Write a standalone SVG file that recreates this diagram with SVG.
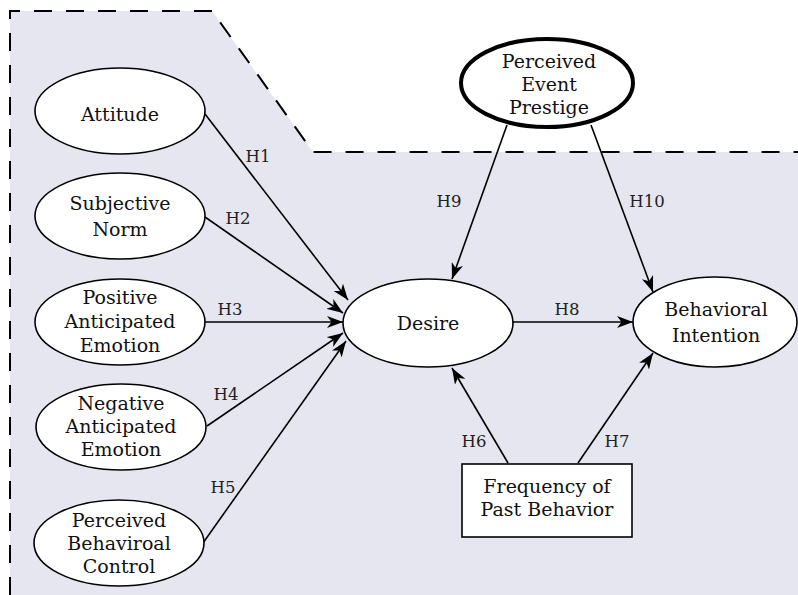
<svg xmlns="http://www.w3.org/2000/svg" width="798" height="595" viewBox="0 0 798 595">
<defs>
<marker id="ah" markerUnits="userSpaceOnUse" markerWidth="17" markerHeight="12" refX="16" refY="6" orient="auto">
<path d="M0,0 L16,6 L0,12 L4.5,6 z" fill="#000"/>
</marker>
<style>
text{font-family:'DejaVu Serif','Liberation Serif',serif}
.n{fill:#fff;stroke:#000;stroke-width:1.6}
.t{font-size:19px;fill:#111;text-anchor:middle}
.h{font-size:16.5px;fill:#222;text-anchor:middle}
.c{stroke:#000;stroke-width:1.6;fill:none;marker-end:url(#ah)}
</style>
</defs>
<rect width="798" height="595" fill="#fff"/>
<g id="boundary">
<polygon points="10,11 212,11 313,152 798,152 798,595 10,595" fill="#e6e6f0"/>
<polyline points="10,595 10,11 212,11 313,152 798,152" fill="none" stroke="#000" stroke-width="2" stroke-dasharray="18,14"/>
</g>
<g id="connectors">
<line class="c" x1="205" y1="114" x2="348" y2="300"/>
<line class="c" x1="205" y1="217" x2="343" y2="313"/>
<line class="c" x1="205" y1="322" x2="343" y2="322"/>
<line class="c" x1="207" y1="426" x2="343" y2="333"/>
<line class="c" x1="203" y1="543" x2="346" y2="341"/>
<line class="c" x1="507" y1="125" x2="452" y2="279"/>
<line class="c" x1="591" y1="125" x2="653" y2="292"/>
<line class="c" x1="513" y1="322" x2="633" y2="322"/>
<line class="c" x1="508" y1="463" x2="452" y2="368"/>
<line class="c" x1="578" y1="463" x2="653" y2="353"/>
<text class="h" x="258" y="162">H1</text>
<text class="h" x="238" y="224">H2</text>
<text class="h" x="230" y="315">H3</text>
<text class="h" x="226" y="400">H4</text>
<text class="h" x="223" y="493">H5</text>
<text class="h" x="474" y="447">H6</text>
<text class="h" x="617" y="447">H7</text>
<text class="h" x="567" y="315">H8</text>
<text class="h" x="449" y="207">H9</text>
<text class="h" x="647" y="207">H10</text>
</g>
<g id="attitude">
<ellipse class="n" cx="120" cy="111" rx="85" ry="43"/>
<text class="t" x="120" y="121">Attitude</text>
</g>
<g id="subjective-norm">
<ellipse class="n" cx="120" cy="216" rx="85" ry="43"/>
<text class="t" x="120" y="210">Subjective</text>
<text class="t" x="120" y="236">Norm</text>
</g>
<g id="positive-emotion">
<ellipse class="n" cx="120" cy="322" rx="85" ry="43"/>
<text class="t" x="120" y="304">Positive</text>
<text class="t" x="120" y="328">Anticipated</text>
<text class="t" x="120" y="352">Emotion</text>
</g>
<g id="negative-emotion">
<ellipse class="n" cx="121" cy="427" rx="85" ry="43"/>
<text class="t" x="121" y="410">Negative</text>
<text class="t" x="121" y="433">Anticipated</text>
<text class="t" x="121" y="456">Emotion</text>
</g>
<g id="pbc">
<ellipse class="n" cx="119" cy="543" rx="85" ry="43"/>
<text class="t" x="119" y="527">Perceived</text>
<text class="t" x="119" y="550">Behaviroal</text>
<text class="t" x="119" y="573">Control</text>
</g>
<g id="desire">
<ellipse class="n" cx="428" cy="323" rx="85" ry="44"/>
<text class="t" x="428" y="330">Desire</text>
</g>
<g id="behavioral-intention">
<ellipse class="n" cx="715" cy="322" rx="82" ry="45"/>
<text class="t" x="716" y="316">Behavioral</text>
<text class="t" x="716" y="342">Intention</text>
</g>
<g id="event-prestige">
<ellipse cx="547" cy="83" rx="86" ry="44" fill="#fff" stroke="#000" stroke-width="4"/>
<text class="t" x="549" y="68">Perceived</text>
<text class="t" x="549" y="91">Event</text>
<text class="t" x="549" y="114">Prestige</text>
</g>
<g id="past-behavior">
<rect x="462" y="464" width="170" height="73" fill="#fff" stroke="#000" stroke-width="1.6"/>
<text class="t" x="547" y="493">Frequency of</text>
<text class="t" x="547" y="516">Past Behavior</text>
</g>
</svg>
